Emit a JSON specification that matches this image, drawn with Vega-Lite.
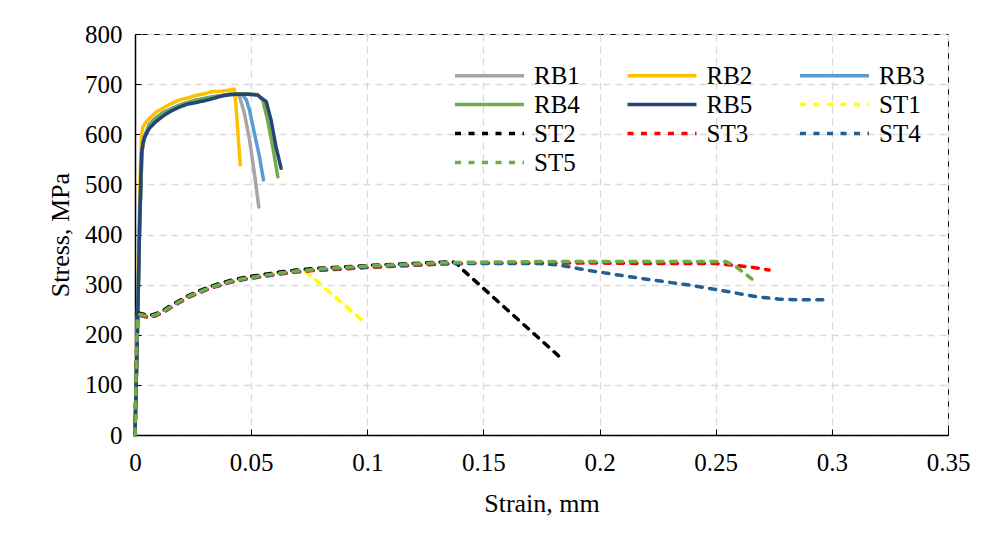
{
  "$schema": "https://vega.github.io/schema/vega-lite/v6.json",
  "width": 813,
  "height": 401,
  "autosize": {"type": "none"},
  "padding": {"left": 135, "top": 34, "right": 33, "bottom": 111},
  "background": "#ffffff",
  "config": {
    "font": "Liberation Serif",
    "view": {"stroke": "#000000", "strokeWidth": 1},
    "axis": {
      "labelFont": "Liberation Serif",
      "labelFontSize": 25,
      "labelColor": "#000000",
      "titleFont": "Liberation Serif",
      "titleFontSize": 26,
      "titleFontWeight": "normal",
      "titleColor": "#000000",
      "domainColor": "#000000",
      "domainWidth": 1.5,
      "tickColor": "#000000",
      "tickWidth": 1,
      "tickSize": -6,
      "gridColor": "#D9D9D9",
      "gridWidth": 1.3,
      "gridDash": [7, 5]
    }
  },
  "data": {
    "values": [
      {"s":"RB1","x":0,"y":0},{"s":"RB1","x":0.001,"y":200},{"s":"RB1","x":0.002,"y":420},{"s":"RB1","x":0.003,"y":568},{"s":"RB1","x":0.004,"y":593},{"s":"RB1","x":0.0062,"y":619},{"s":"RB1","x":0.009,"y":632},{"s":"RB1","x":0.012,"y":642},{"s":"RB1","x":0.019,"y":657},{"s":"RB1","x":0.026,"y":667},{"s":"RB1","x":0.0335,"y":674},{"s":"RB1","x":0.0407,"y":679},{"s":"RB1","x":0.0435,"y":680},{"s":"RB1","x":0.045,"y":675},{"s":"RB1","x":0.0471,"y":642},{"s":"RB1","x":0.0493,"y":589},{"s":"RB1","x":0.0514,"y":522},{"s":"RB1","x":0.0533,"y":455},
      {"s":"RB2","x":0,"y":0},{"s":"RB2","x":0.001,"y":220},{"s":"RB2","x":0.002,"y":480},{"s":"RB2","x":0.0028,"y":600},{"s":"RB2","x":0.0035,"y":615},{"s":"RB2","x":0.0048,"y":625},{"s":"RB2","x":0.007,"y":635},{"s":"RB2","x":0.009,"y":644},{"s":"RB2","x":0.012,"y":652},{"s":"RB2","x":0.015,"y":660},{"s":"RB2","x":0.019,"y":668},{"s":"RB2","x":0.0225,"y":672},{"s":"RB2","x":0.026,"y":677},{"s":"RB2","x":0.03,"y":681},{"s":"RB2","x":0.0335,"y":685},{"s":"RB2","x":0.037,"y":686},{"s":"RB2","x":0.0407,"y":688},{"s":"RB2","x":0.0428,"y":690},{"s":"RB2","x":0.0436,"y":650},{"s":"RB2","x":0.0445,"y":590},{"s":"RB2","x":0.0453,"y":539},
      {"s":"RB3","x":0,"y":0},{"s":"RB3","x":0.001,"y":200},{"s":"RB3","x":0.002,"y":420},{"s":"RB3","x":0.003,"y":570},{"s":"RB3","x":0.004,"y":595},{"s":"RB3","x":0.0062,"y":620},{"s":"RB3","x":0.009,"y":633},{"s":"RB3","x":0.012,"y":643},{"s":"RB3","x":0.019,"y":658},{"s":"RB3","x":0.026,"y":668},{"s":"RB3","x":0.0335,"y":675},{"s":"RB3","x":0.0407,"y":679},{"s":"RB3","x":0.0445,"y":680},{"s":"RB3","x":0.0464,"y":678},{"s":"RB3","x":0.048,"y":668},{"s":"RB3","x":0.0493,"y":648},{"s":"RB3","x":0.0514,"y":602},{"s":"RB3","x":0.0536,"y":555},{"s":"RB3","x":0.0553,"y":509},
      {"s":"RB4","x":0,"y":0},{"s":"RB4","x":0.001,"y":200},{"s":"RB4","x":0.002,"y":420},{"s":"RB4","x":0.003,"y":565},{"s":"RB4","x":0.004,"y":590},{"s":"RB4","x":0.0062,"y":618},{"s":"RB4","x":0.009,"y":632},{"s":"RB4","x":0.012,"y":642},{"s":"RB4","x":0.019,"y":657},{"s":"RB4","x":0.026,"y":667},{"s":"RB4","x":0.0335,"y":674},{"s":"RB4","x":0.0407,"y":680},{"s":"RB4","x":0.0478,"y":681},{"s":"RB4","x":0.051,"y":680},{"s":"RB4","x":0.0528,"y":679},{"s":"RB4","x":0.055,"y":668},{"s":"RB4","x":0.0571,"y":628},{"s":"RB4","x":0.0593,"y":575},{"s":"RB4","x":0.0615,"y":515},
      {"s":"RB5","x":0,"y":0},{"s":"RB5","x":0.001,"y":200},{"s":"RB5","x":0.002,"y":420},{"s":"RB5","x":0.0028,"y":560},{"s":"RB5","x":0.0035,"y":585},{"s":"RB5","x":0.0045,"y":598},{"s":"RB5","x":0.0062,"y":612},{"s":"RB5","x":0.009,"y":625},{"s":"RB5","x":0.012,"y":636},{"s":"RB5","x":0.015,"y":645},{"s":"RB5","x":0.019,"y":654},{"s":"RB5","x":0.0225,"y":660},{"s":"RB5","x":0.026,"y":663},{"s":"RB5","x":0.03,"y":667},{"s":"RB5","x":0.0335,"y":671},{"s":"RB5","x":0.037,"y":676},{"s":"RB5","x":0.0407,"y":679},{"s":"RB5","x":0.0445,"y":680},{"s":"RB5","x":0.0478,"y":680},{"s":"RB5","x":0.0528,"y":678},{"s":"RB5","x":0.0565,"y":665},{"s":"RB5","x":0.0586,"y":628},{"s":"RB5","x":0.0607,"y":575},{"s":"RB5","x":0.0629,"y":532},
      {"s":"ST1","x":0,"y":0},{"s":"ST1","x":0.0005,"y":121},{"s":"ST1","x":0.001,"y":231},{"s":"ST1","x":0.0019,"y":242},{"s":"ST1","x":0.0045,"y":239},{"s":"ST1","x":0.0062,"y":237},{"s":"ST1","x":0.009,"y":241},{"s":"ST1","x":0.012,"y":247},{"s":"ST1","x":0.015,"y":256},{"s":"ST1","x":0.019,"y":267},{"s":"ST1","x":0.0225,"y":276},{"s":"ST1","x":0.0263,"y":284},{"s":"ST1","x":0.03,"y":291},{"s":"ST1","x":0.0335,"y":297},{"s":"ST1","x":0.0407,"y":307},{"s":"ST1","x":0.0478,"y":314},{"s":"ST1","x":0.055,"y":319},{"s":"ST1","x":0.0622,"y":324},{"s":"ST1","x":0.0694,"y":328},{"s":"ST1","x":0.073,"y":328},{"s":"ST1","x":0.099,"y":224},
      {"s":"ST2","x":0,"y":0},{"s":"ST2","x":0.0005,"y":122},{"s":"ST2","x":0.001,"y":232},{"s":"ST2","x":0.0019,"y":243},{"s":"ST2","x":0.0045,"y":240},{"s":"ST2","x":0.0062,"y":238},{"s":"ST2","x":0.009,"y":242},{"s":"ST2","x":0.012,"y":248},{"s":"ST2","x":0.015,"y":257},{"s":"ST2","x":0.019,"y":268},{"s":"ST2","x":0.0225,"y":277},{"s":"ST2","x":0.0263,"y":285},{"s":"ST2","x":0.03,"y":292},{"s":"ST2","x":0.0335,"y":298},{"s":"ST2","x":0.0407,"y":308},{"s":"ST2","x":0.0478,"y":315},{"s":"ST2","x":0.055,"y":320},{"s":"ST2","x":0.0622,"y":325},{"s":"ST2","x":0.0694,"y":329},{"s":"ST2","x":0.0765,"y":332},{"s":"ST2","x":0.0851,"y":334},{"s":"ST2","x":0.0995,"y":338},{"s":"ST2","x":0.1138,"y":341},{"s":"ST2","x":0.128,"y":344},{"s":"ST2","x":0.1366,"y":346},{"s":"ST2","x":0.139,"y":340},{"s":"ST2","x":0.141,"y":330},{"s":"ST2","x":0.184,"y":151},
      {"s":"ST3","x":0,"y":0},{"s":"ST3","x":0.0005,"y":118},{"s":"ST3","x":0.001,"y":228},{"s":"ST3","x":0.0019,"y":239},{"s":"ST3","x":0.0045,"y":236},{"s":"ST3","x":0.0062,"y":234},{"s":"ST3","x":0.009,"y":238},{"s":"ST3","x":0.012,"y":244},{"s":"ST3","x":0.015,"y":253},{"s":"ST3","x":0.019,"y":264},{"s":"ST3","x":0.0225,"y":273},{"s":"ST3","x":0.0263,"y":281},{"s":"ST3","x":0.03,"y":288},{"s":"ST3","x":0.0335,"y":294},{"s":"ST3","x":0.0407,"y":304},{"s":"ST3","x":0.0478,"y":311},{"s":"ST3","x":0.055,"y":316},{"s":"ST3","x":0.0622,"y":321},{"s":"ST3","x":0.0694,"y":325},{"s":"ST3","x":0.0765,"y":328},{"s":"ST3","x":0.0851,"y":330},{"s":"ST3","x":0.0995,"y":334},{"s":"ST3","x":0.1138,"y":337},{"s":"ST3","x":0.128,"y":340},{"s":"ST3","x":0.1366,"y":342},{"s":"ST3","x":0.15,"y":343},{"s":"ST3","x":0.175,"y":343},{"s":"ST3","x":0.2,"y":343},{"s":"ST3","x":0.225,"y":342},{"s":"ST3","x":0.25,"y":342},{"s":"ST3","x":0.257,"y":339},{"s":"ST3","x":0.265,"y":335},{"s":"ST3","x":0.273,"y":329},
      {"s":"ST4","x":0,"y":0},{"s":"ST4","x":0.0005,"y":119},{"s":"ST4","x":0.001,"y":229},{"s":"ST4","x":0.0019,"y":240},{"s":"ST4","x":0.0045,"y":237},{"s":"ST4","x":0.0062,"y":235},{"s":"ST4","x":0.009,"y":239},{"s":"ST4","x":0.012,"y":245},{"s":"ST4","x":0.015,"y":254},{"s":"ST4","x":0.019,"y":265},{"s":"ST4","x":0.0225,"y":274},{"s":"ST4","x":0.0263,"y":282},{"s":"ST4","x":0.03,"y":289},{"s":"ST4","x":0.0335,"y":295},{"s":"ST4","x":0.0407,"y":305},{"s":"ST4","x":0.0478,"y":312},{"s":"ST4","x":0.055,"y":317},{"s":"ST4","x":0.0622,"y":322},{"s":"ST4","x":0.0694,"y":326},{"s":"ST4","x":0.0765,"y":329},{"s":"ST4","x":0.0851,"y":331},{"s":"ST4","x":0.0995,"y":335},{"s":"ST4","x":0.1138,"y":338},{"s":"ST4","x":0.128,"y":341},{"s":"ST4","x":0.1366,"y":342},{"s":"ST4","x":0.15,"y":342},{"s":"ST4","x":0.165,"y":342},{"s":"ST4","x":0.174,"y":342},{"s":"ST4","x":0.1827,"y":339},{"s":"ST4","x":0.1956,"y":328},{"s":"ST4","x":0.217,"y":313},{"s":"ST4","x":0.2386,"y":299},{"s":"ST4","x":0.253,"y":288},{"s":"ST4","x":0.2673,"y":276},{"s":"ST4","x":0.2773,"y":271},{"s":"ST4","x":0.285,"y":270},{"s":"ST4","x":0.299,"y":270},
      {"s":"ST5","x":0,"y":0},{"s":"ST5","x":0.0005,"y":120},{"s":"ST5","x":0.001,"y":230},{"s":"ST5","x":0.0019,"y":241},{"s":"ST5","x":0.0045,"y":238},{"s":"ST5","x":0.0062,"y":236},{"s":"ST5","x":0.009,"y":240},{"s":"ST5","x":0.012,"y":246},{"s":"ST5","x":0.015,"y":255},{"s":"ST5","x":0.019,"y":266},{"s":"ST5","x":0.0225,"y":275},{"s":"ST5","x":0.0263,"y":283},{"s":"ST5","x":0.03,"y":290},{"s":"ST5","x":0.0335,"y":296},{"s":"ST5","x":0.0407,"y":306},{"s":"ST5","x":0.0478,"y":313},{"s":"ST5","x":0.055,"y":318},{"s":"ST5","x":0.0622,"y":323},{"s":"ST5","x":0.0694,"y":327},{"s":"ST5","x":0.0765,"y":330},{"s":"ST5","x":0.0851,"y":333},{"s":"ST5","x":0.0995,"y":337},{"s":"ST5","x":0.1138,"y":340},{"s":"ST5","x":0.128,"y":343},{"s":"ST5","x":0.1366,"y":344},{"s":"ST5","x":0.15,"y":345},{"s":"ST5","x":0.175,"y":346},{"s":"ST5","x":0.2,"y":346},{"s":"ST5","x":0.225,"y":346},{"s":"ST5","x":0.2544,"y":346},{"s":"ST5","x":0.2587,"y":336},{"s":"ST5","x":0.2656,"y":311}
    ]
  },
  "mark": {"type": "line", "strokeWidth": 3.5, "strokeCap": "round", "strokeJoin": "round"},
  "encoding": {
    "x": {
      "field": "x", "type": "quantitative",
      "scale": {"domain": [0, 0.35], "nice": false, "zero": false},
      "axis": {"title": "Strain, mm", "values": [0, 0.05, 0.1, 0.15, 0.2, 0.25, 0.3, 0.35], "format": "~g", "labelPadding": 21, "titlePadding": 15, "labelFlush": false}
    },
    "y": {
      "field": "y", "type": "quantitative",
      "scale": {"domain": [0, 800], "nice": false},
      "axis": {"title": "Stress, MPa", "values": [0, 100, 200, 300, 400, 500, 600, 700, 800], "labelPadding": 19, "titlePadding": 11}
    },
    "color": {
      "field": "s", "type": "nominal", "title": null,
      "scale": {
        "domain": ["RB1","RB2","RB3","RB4","RB5","ST1","ST2","ST3","ST4","ST5"],
        "range": ["#A5A5A5","#FFC000","#5B9BD5","#70AD47","#264478","#FFFF00","#000000","#FF0000","#255E91","#70AD47"]
      },
      "legend": {
        "orient": "none", "legendX": 318, "legendY": 28, "columns": 3, "direction": "horizontal",
        "symbolType": "M-1,0H5", "symbolSize": 529, "symbolStrokeWidth": 3.5,
        "labelFont": "Liberation Serif", "labelFontSize": 25, "labelColor": "#000000",
        "labelOffset": 54, "columnPadding": 40.5, "rowPadding": 2, "padding": 0, "gridAlign": "all"
      }
    },
    "strokeDash": {
      "field": "s", "type": "nominal", "title": null,
      "scale": {
        "domain": ["RB1","RB2","RB3","RB4","RB5","ST1","ST2","ST3","ST4","ST5"],
        "range": [[1,0],[1,0],[1,0],[1,0],[1,0],[6,7.5],[6,7.5],[6,7.5],[6,7.5],[6,7.5]]
      },
      "legend": {
        "orient": "none", "legendX": 318, "legendY": 28, "columns": 3, "direction": "horizontal",
        "symbolType": "M-1,0H5", "symbolSize": 529, "symbolStrokeWidth": 3.5,
        "labelFont": "Liberation Serif", "labelFontSize": 25, "labelColor": "#000000",
        "labelOffset": 54, "columnPadding": 40.5, "rowPadding": 2, "padding": 0, "gridAlign": "all"
      }
    }
  }
}
